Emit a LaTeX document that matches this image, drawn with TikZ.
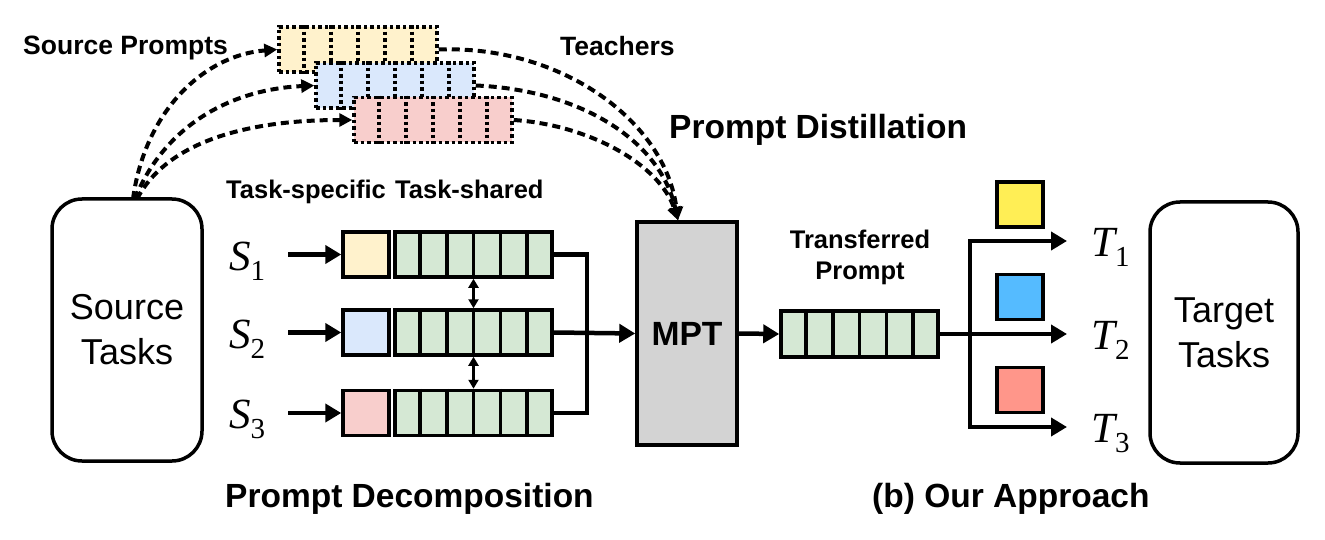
\documentclass[tikz,border=0pt]{standalone}
\usepackage{fontspec}
\setmainfont{Liberation Sans}
\newfontfamily\tms{Liberation Serif}
\usetikzlibrary{arrows.meta,calc}
\definecolor{lyel}{HTML}{FFF2CC}
\definecolor{lblu}{HTML}{DAE8FC}
\definecolor{lpnk}{HTML}{F8CECC}
\definecolor{lgrn}{HTML}{D5E8D4}
\definecolor{mgray}{HTML}{D3D3D3}
\definecolor{byel}{HTML}{FFEE55}
\definecolor{bblu}{HTML}{55BBFF}
\definecolor{bsal}{HTML}{FF968A}
\newcommand\myfs[2]{\fontsize{#1}{#2}\selectfont}
\newcommand\mycells[2]{\foreach \i in {1,...,5}{\draw[#2] ($(#1.north west)!\i/6!(#1.north east)$) -- ($(#1.south west)!\i/6!(#1.south east)$);}}
\newcommand\symb[2]{{\itshape #1}\raisebox{-10pt}{\myfs{29}{29}#2}}
\begin{document}
\begin{tikzpicture}[x=1pt,y=-1pt,
  solidbox/.style={draw, line width=3.5pt, inner sep=0pt, minimum height=45pt},
  sq/.style={solidbox, minimum width=46pt},
  bar/.style={solidbox, fill=lgrn, minimum width=157pt},
  dotbox/.style={draw, line width=3.5pt, dash pattern=on 3.5pt off 3pt, inner sep=0pt, minimum width=158pt, minimum height=45pt},
  cellsolid/.style={line width=3.5pt},
  celldot/.style={line width=3.5pt, dash pattern=on 3.5pt off 3pt},
  arr/.style={line width=4.5pt, -{Triangle[length=16pt,width=18pt]}},
  plain/.style={line width=4.5pt},
  dbl/.style={line width=2.8pt, {Triangle[length=9pt,width=10pt]}-{Triangle[length=9pt,width=10pt]}},
  dasharr/.style={line width=4pt, dash pattern=on 8pt off 5pt, -{Triangle[length=13pt,width=13pt]}},
  task/.style={draw, line width=3.5pt, rounded corners=30pt, minimum width=150pt, minimum height=262pt, align=center, font=\myfs{36}{45}},
  lbl/.style={inner sep=0pt, font=\bfseries\myfs{25.5}{31}},
  big/.style={inner sep=0pt, font=\bfseries\myfs{33.5}{40}},
  mathlbl/.style={inner sep=0pt, anchor=base west, font=\tms\myfs{43}{43}},
]
\useasboundingbox (0,0) rectangle (1325,540);

% task boxes
\node[task] (src) at (127,330) {Source\\Tasks};
\node[task, minimum width=148pt, minimum height=261pt] (tgt) at (1224,332.5) {Target\\Tasks};

% source prompts (teachers)
\node[dotbox, fill=lyel] (yp) at (358,49.5) {};
\mycells{yp}{celldot}
\node[dotbox, fill=lblu] (bp) at (395,85.5) {};
\mycells{bp}{celldot}
\node[dotbox, fill=lpnk] (pp) at (433,120) {};
\mycells{pp}{celldot}

% labels
\node[lbl, anchor=base west, font=\bfseries\myfs{26.5}{31}] (lsp) at (23,55) {Source Prompts};
\node[lbl, anchor=base west, font=\bfseries\myfs{26.5}{31}] (lte) at (560,56) {Teachers};
\node[big, anchor=base west] (lpd) at (669,139) {Prompt Distillation};
\node[lbl, anchor=base west] (lts) at (226,199) {Task-specific};
\node[lbl, anchor=base west] (ltsh) at (395,199) {Task-shared};
\node[lbl, align=center] (ltp) at (860,257) {Transferred\\Prompt};
\node[big, anchor=base west] (ldec) at (225,507) {Prompt Decomposition};
\node[big, anchor=base west] (lour) at (872,507) {(b) Our Approach};

% MPT
\node[draw, line width=3.5pt, fill=mgray, minimum width=100pt, minimum height=223pt, inner sep=0pt, font=\bfseries\myfs{33.6}{40}] (mpt) at (687,333.5) {MPT};
\coordinate (mtop) at ([xshift=-9pt]mpt.north);

% decomposition rows
\node[sq, fill=lyel] (s1) at (366,254.5) {};
\node[sq, fill=lblu] (s2) at (366,332.5) {};
\node[sq, fill=lpnk] (s3) at (366,413) {};
\node[bar] (b1) at (473.5,254.5) {};
\node[bar] (b2) at (473.5,332.5) {};
\node[bar] (b3) at (473.5,413) {};
\mycells{b1}{cellsolid}
\mycells{b2}{cellsolid}
\mycells{b3}{cellsolid}

\node[mathlbl] (S1) at (229,270) {\symb{S}{1}};
\node[mathlbl] (S2) at (229,348) {\symb{S}{2}};
\node[mathlbl] (S3) at (229,428) {\symb{S}{3}};
\coordinate (a1) at (288,254.5);
\coordinate (a2) at (288,332.5);
\coordinate (a3) at (288,413);
\draw[arr] (a1) -- (s1.west);
\draw[arr] (a2) -- (s2.west);
\draw[arr] (a3) -- (s3.west);
\draw[dbl] (b1.south) -- (b2.north);
\draw[dbl] (b2.south) -- (b3.north);

\coordinate (mx) at (587,332.5);
\draw[plain] (b1.east) -| (mx) |- (b3.east);
\draw[arr] (b2.east) -- (mpt.west);

% transferred prompt
\node[bar, minimum height=46pt] (tp) at (859.5,334) {};
\mycells{tp}{cellsolid}
\draw[arr] (mpt.east) -- (tp.west);
\coordinate (br) at (970,334);
\coordinate (e1) at (1067,241);
\coordinate (e2) at (1067,334);
\coordinate (e3) at (1067,427);
\draw[plain] (tp.east) -- (br);
\draw[arr] (br) |- (e1);
\draw[arr] (br) |- (e3);
\draw[arr] (br) -- (e2);

\node[sq, fill=byel] (c1) at (1020,204.5) {};
\node[sq, fill=bblu] (c2) at (1020,297) {};
\node[sq, fill=bsal] (c3) at (1020,390) {};

\node[mathlbl] (T1) at (1091,256) {\symb{T}{1}};
\node[mathlbl] (T2) at (1091,349) {\symb{T}{2}};
\node[mathlbl] (T3) at (1091,442) {\symb{T}{3}};

% dashed arrows
\coordinate (sp1) at (133,199);
\coordinate (sp2) at (135,199);
\coordinate (sp3) at (137,199);
\draw[dasharr] (sp1) .. controls (145,110) and (205,55) .. (yp.west);
\draw[dasharr] (sp2) .. controls (160,135) and (220,90) .. (bp.west);
\draw[dasharr] (sp3) .. controls (165,145) and (240,120) .. (pp.west);
\draw[dasharr] (yp.east) .. controls (560,45) and (665,120) .. (mtop);
\draw[dasharr] (bp.east) .. controls (580,90) and (660,140) .. (mtop);
\draw[dasharr] (pp.east) .. controls (590,125) and (660,165) .. (mtop);
\end{tikzpicture}
\end{document}
